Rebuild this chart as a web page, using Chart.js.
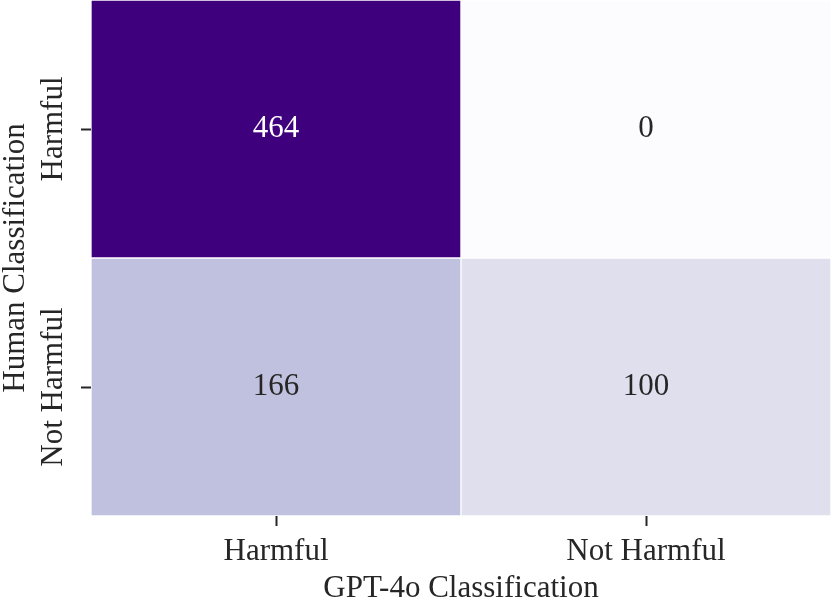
<!DOCTYPE html>
<html>
<head>
<meta charset="utf-8">
<script src="https://cdn.jsdelivr.net/npm/chart.js@4"></script>
<style>
html,body{margin:0;padding:0;background:#fff;}
#wrap{width:831px;height:607px;position:relative;}
</style>
</head>
<body>
<div id="wrap"><canvas id="c"></canvas></div>
<script>
const colLabels = ['Harmful', 'Not Harmful'];      // GPT-4o Classification
const rowLabels = ['Harmful', 'Not Harmful'];      // Human Classification (top to bottom)
const rowHarmful = [464, 0];
const rowNotHarmful = [166, 100];
const cellColors = {464: '#3f007d', 0: '#fcfbfd', 166: '#c0c1de', 100: '#e0dfee'};
const FONT = "'Liberation Serif', 'Times New Roman', serif";
const FS = 31;

function colorsFor(vals){ return vals.map(v => cellColors[v]); }

const valueLabels = {
  id: 'valueLabels',
  afterDatasetsDraw(chart){
    const ctx = chart.ctx;
    ctx.save();
    ctx.font = FS + 'px ' + FONT;
    ctx.textAlign = 'center';
    ctx.textBaseline = 'alphabetic';
    chart.data.datasets.forEach((ds, di) => {
      const meta = chart.getDatasetMeta(di);
      meta.data.forEach((el, i) => {
        const v = ds.values[i];
        const y = (el.y + el.base) / 2;
        ctx.fillStyle = v > 300 ? '#ffffff' : '#262626';
        ctx.fillText(String(v), el.x, y + 8);
      });
    });
    // y tick labels, rotated
    const ys = chart.scales.y;
    ctx.fillStyle = '#262626';
    [[1.5, rowLabels[0]], [0.5, rowLabels[1]]].forEach(([v, t]) => {
      const py = ys.getPixelForValue(v);
      ctx.save();
      ctx.translate(62, py);
      ctx.rotate(-Math.PI / 2);
      ctx.fillText(t, 0, 0);
      ctx.restore();
    });
    ctx.restore();
  }
};

new Chart(document.getElementById('c'), {
  type: 'bar',
  data: {
    labels: colLabels,
    datasets: [
      { label: rowLabels[0], values: rowHarmful, data: rowHarmful.map(() => [1, 2]),
        backgroundColor: colorsFor(rowHarmful), borderColor: '#ffffff', borderWidth: 1, borderSkipped: false },
      { label: rowLabels[1], values: rowNotHarmful, data: rowNotHarmful.map(() => [0, 1]),
        backgroundColor: colorsFor(rowNotHarmful), borderColor: '#ffffff', borderWidth: 1, borderSkipped: false }
    ]
  },
  options: {
    responsive: true,
    maintainAspectRatio: false,
    animation: false,
    layout: { padding: 0 },
    barPercentage: 1,
    categoryPercentage: 1,
    plugins: { legend: { display: false }, tooltip: { enabled: false } },
    scales: {
      x: {
        stacked: true,
        border: { display: false },
        grid: { offset: false, drawOnChartArea: false, drawTicks: true, tickLength: 10, color: '#262626', tickWidth: 2 },
        ticks: { font: { family: FONT, size: FS }, color: '#262626', padding: 7, maxRotation: 0, minRotation: 0 },
        title: { display: true, text: 'GPT-4o Classification', font: { family: FONT, size: FS }, color: '#262626', padding: { top: 0, bottom: 0 } },
        afterFit(s){ s.height = 91; }
      },
      y: {
        min: 0, max: 2,
        border: { display: false },
        grid: { drawOnChartArea: false, drawTicks: true, tickLength: 10, color: '#262626', tickWidth: 2 },
        afterBuildTicks(s){ s.ticks = [{value: 0.5}, {value: 1.5}]; },
        ticks: { display: false },
        title: { display: true, text: 'Human Classification', font: { family: FONT, size: FS, lineHeight: 1 }, color: '#262626', padding: { top: 0, bottom: 0 } },
        afterFit(s){ s.width = 91; }
      }
    }
  },
  plugins: [valueLabels]
});
</script>
</body>
</html>
